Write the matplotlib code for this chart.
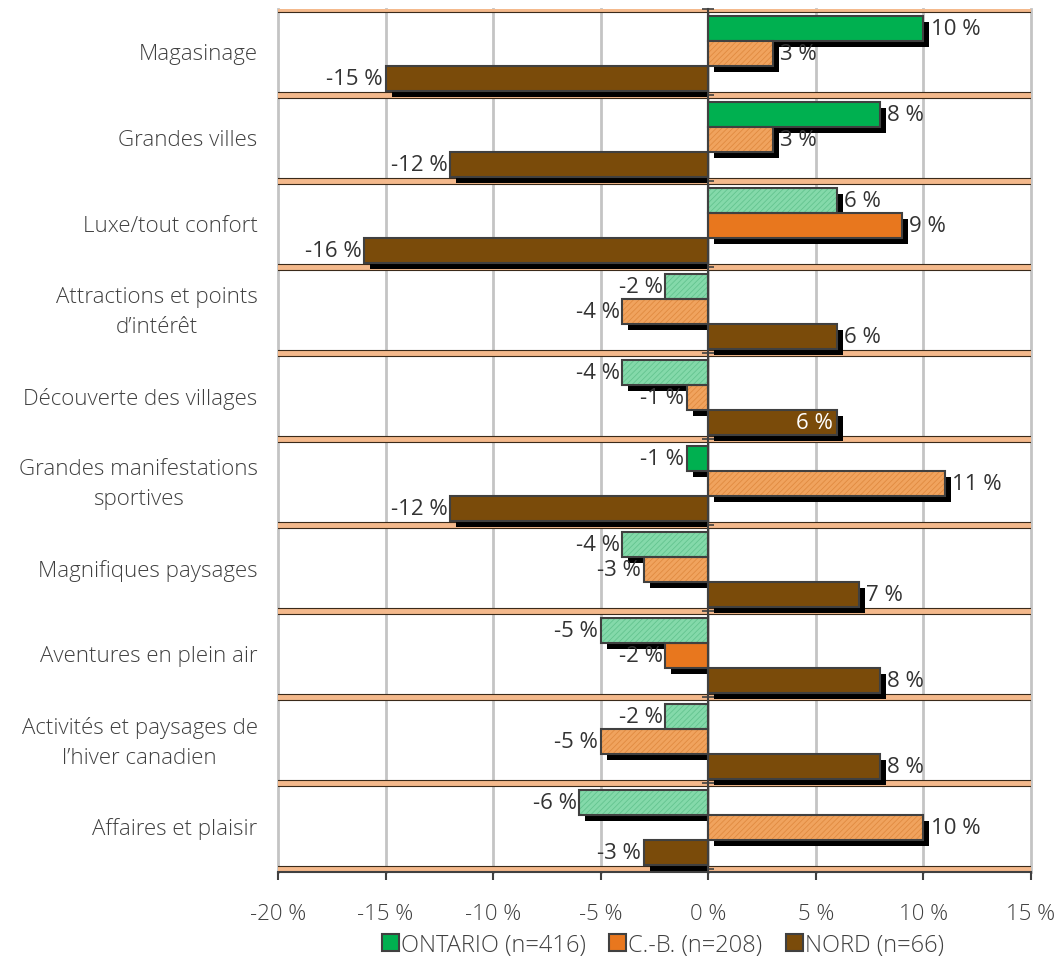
import matplotlib.pyplot as plt
from matplotlib.patches import Patch
import matplotlib.transforms as mtransforms

categories = ["Magasinage", "Grandes villes", "Luxe/tout confort",
              "Attractions et points\nd’intérêt", "Découverte des villages",
              "Grandes manifestations\nsportives", "Magnifiques paysages",
              "Aventures en plein air", "Activités et paysages de\nl’hiver canadien",
              "Affaires et plaisir"]
ontario = [10, 8, 6, -2, -4, -1, -4, -5, -2, -6]
cb = [3, 3, 9, -4, -1, 11, -3, -2, -5, 10]
nord = [-15, -12, -16, 6, 6, -12, 7, 8, 8, -3]
# 1 = écart significatif (couleur pleine), 0 = non significatif (hachuré pâle)
ontario_sig = [1, 1, 0, 0, 0, 1, 0, 0, 0, 0]
cb_sig = [0, 0, 1, 0, 0, 0, 0, 1, 0, 0]
nord_sig = [1] * 10
series_names = ["ONTARIO (n=416)", "C.-B. (n=208)", "NORD (n=66)"]
xticks = [-20, -15, -10, -5, 0, 5, 10, 15]

plt.rcParams['font.family'] = ['Open Sans', 'DejaVu Sans']
plt.rcParams['font.weight'] = 'light'
plt.rcParams['hatch.linewidth'] = 0.6

solid = ['#00b050', '#e8771e', '#7a4b0a']
pale = ['#84d9aa', '#f0a35e', '#7a4b0a']
hatchcol = ['#63c48f', '#e08a40', '#7a4b0a']
edge = '#404040'
txt = '#404040'

fig = plt.figure(figsize=(10.6, 9.7), dpi=100)
ax = fig.add_axes([278 / 1060, 1 - 873 / 970, (1031 - 278) / 1060, (873 - 9.5) / 970])
ax.set_xlim(-20, 15)
ax.set_ylim(9.54, -0.5)

# grille verticale
for x in xticks:
    ax.axvline(x, color='#c4c4c4', lw=2, zorder=0, clip_on=False)

# bandes de séparation entre les catégories
for b in range(11):
    yb = b - 0.5
    ax.axhspan(yb - 0.03, yb + 0.04, color='#f4b98c', lw=0, zorder=1)
    ax.axhline(yb - 0.03, color='#3a2a1a', lw=0.8, zorder=1.1)
    ax.axhline(yb + 0.04, color='#3a2a1a', lw=0.8, zorder=1.1)

h = 0.29
offsets = [-h + 0.025, 0.025, h + 0.025]
dx, dy = 0.28, 0.07
data = [ontario, cb, nord]
sigs = [ontario_sig, cb_sig, nord_sig]

for s, (vals, sig) in enumerate(zip(data, sigs)):
    for i, v in enumerate(vals):
        y = i + offsets[s]
        # ombre portée
        if v > 0:
            ax.barh(y + dy, v, left=dx, height=h, color='black', lw=0, zorder=2)
        else:
            ax.barh(y + dy, -v - dx, left=v + dx, height=h, color='black', lw=0, zorder=2)
        if sig[i]:
            ax.barh(y, v, height=h, color=solid[s], edgecolor=edge, lw=1.5, zorder=3)
        else:
            ax.barh(y, v, height=h, color=pale[s], edgecolor=hatchcol[s],
                    hatch='//////', lw=0, zorder=3)
            ax.barh(y, v, height=h, fill=False, edgecolor=edge, lw=1.5, zorder=3.1)
        label = f"{v} %"
        if s == 2 and i == 4:
            ax.text(v - 0.23, y, label, ha='right', va='center', color='white',
                    fontsize=16, fontweight='normal', zorder=6)
        elif v > 0:
            ax.text(v + dx + 0.05, y, label, ha='left', va='center', color='#333333',
                    fontsize=16, fontweight='normal', zorder=6)
        else:
            ax.text(v - 0.12, y, label, ha='right', va='center', color='#333333',
                    fontsize=16, fontweight='normal', zorder=6)

# libellés des catégories
trans = mtransforms.blended_transform_factory(ax.transAxes, ax.transData)
for i, c in enumerate(categories):
    ax.text(-0.027, i + 0.025, c, transform=trans, ha='right', va='center',
            multialignment='center', fontsize=16, color=txt, linespacing=1.55)

# axe vertical au zéro
ax.spines['left'].set_position(('data', 0))
ax.spines['left'].set_color(edge)
ax.spines['left'].set_linewidth(1.5)
ax.spines['left'].set_zorder(5)
ax.set_yticks([b - 0.5 for b in range(11)])
ax.set_yticklabels([])
ax.tick_params(axis='y', direction='inout', length=8, width=1.2, color=edge)
ax.spines['top'].set_visible(False)
ax.spines['right'].set_visible(False)
ax.spines['bottom'].set_color(edge)
ax.spines['bottom'].set_linewidth(1.5)
ax.spines['bottom'].set_zorder(5)

ax.set_xticks(xticks)
ax.set_xticklabels([f"{x} %" for x in xticks])
ax.tick_params(axis='x', direction='out', length=6, width=1.5, color=edge,
               labelsize=16, labelcolor=txt, pad=16)

handles = [Patch(facecolor=c, edgecolor=edge, lw=1.5) for c in solid]
fig.legend(handles, series_names, loc='center', bbox_to_anchor=(663 / 1060, 1 - 946 / 970),
           ncol=3, frameon=False, fontsize=17, handlelength=0.7, handleheight=0.7,
           handletextpad=0.1, columnspacing=1.0, labelcolor=txt)

fig.savefig('out.png', dpi=100)
